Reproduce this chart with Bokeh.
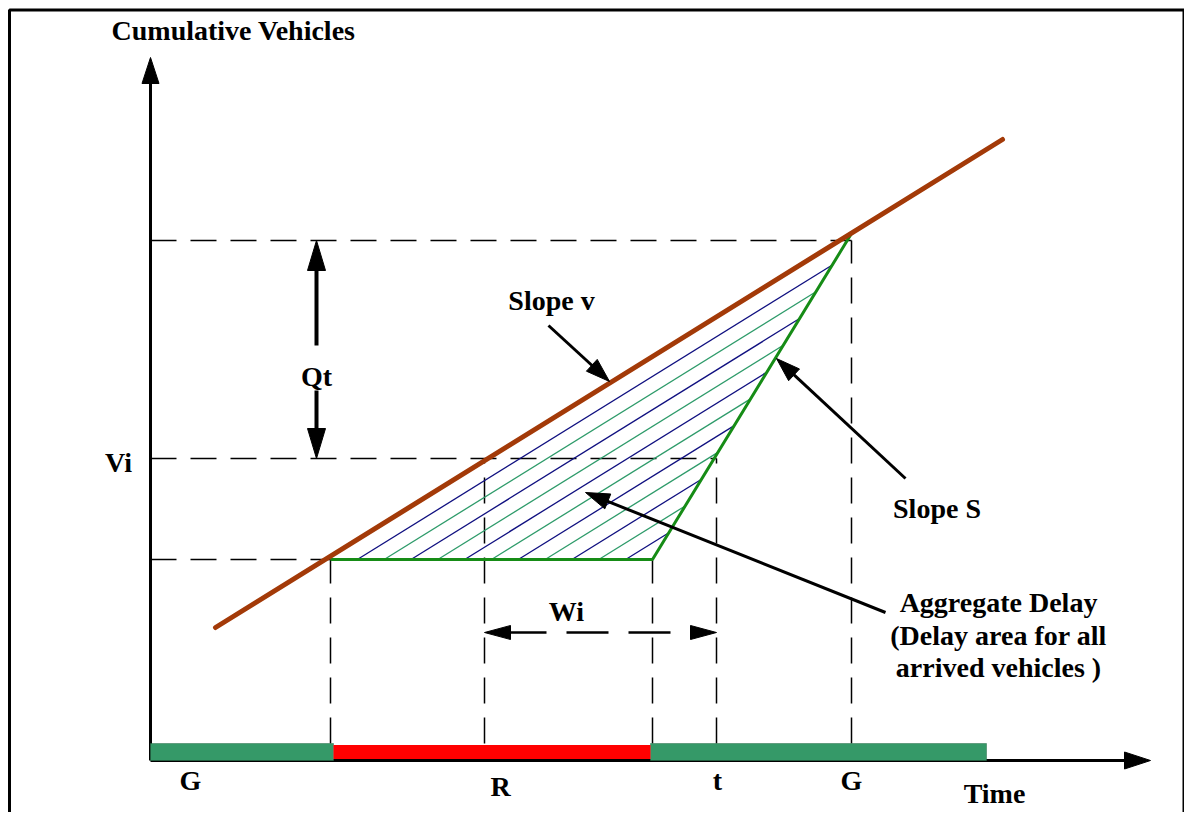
from bokeh.plotting import figure
from bokeh.models import Range1d
from bokeh.core.properties import value
from bokeh.embed import file_html
from bokeh.resources import INLINE
import math

# ---------------- data (diagram units: time, cumulative vehicles) ----------------
arrival_t = [65, 852]          # arrival curve (slope v)
arrival_n = [133, 621]
queue_t = [180, 502]           # queue held during red
queue_n = [201, 201]
departure_t = [502, 701]       # departure curve (slope S)
departure_n = [201, 527]
vi_level = 302                 # Vi
vi_arrive_t = 334
vi_depart_t = 566
qt_top = 520                   # top of Qt
signal_start = [0, 183, 500]
signal_end = [183, 500, 836]
signal_colors = ["#359968", "#FF0000", "#359968"]
tick_labels = ["G", "R", "t", "G"]
tick_label_t = [40, 350, 567, 701]
tick_label_n = [-20, -26, -20, -20]
axis_t_end = 1000
axis_n_end = 703
n_hatch = 11

FONT = value("Liberation Serif")
FS = "28px"

p = figure(width=1184, height=812, output_backend="svg", toolbar_location=None,
           x_range=Range1d(-150, 1034), y_range=Range1d(-52, 760),
           min_border=0, background_fill_color="white", border_fill_color="white")
p.axis.visible = False
p.grid.visible = False
p.outline_line_color = None


def head(tip_t, tip_n, dt, dn, length, width):
    L = math.hypot(dt, dn)
    ux, uy = dt / L, dn / L
    bx, by = tip_t - ux * length, tip_n - uy * length
    px, py = -uy * width / 2, ux * width / 2
    return [tip_t, bx + px, bx - px], [tip_n, by + py, by - py]


def arrow(t0, n0, t1, n1, lw=3, length=26, width=16, dash="solid"):
    L = math.hypot(t1 - t0, n1 - n0)
    ux, uy = (t1 - t0) / L, (n1 - n0) / L
    p.line([t0, t1 - ux * length * 0.8], [n0, n1 - uy * length * 0.8],
           line_color="black", line_width=lw, line_dash=dash)
    xs, ys = head(t1, n1, t1 - t0, n1 - n0, length, width)
    p.patch(xs, ys, fill_color="black", line_color="black", line_width=1)


# frame (three visible sides)
p.line([-141, -141, 1033.5, 1033.5], [-60, 750.5, 750.5, -60],
       line_color="black", line_width=3)

# dashed guide lines
DASH = "26 14"
dl = dict(line_color="black", line_width=1.5, line_dash=DASH)
p.line([0, queue_t[0]], [queue_n[0], queue_n[0]], **dl)
p.line([0, vi_depart_t], [vi_level, vi_level], **dl)
p.line([0, departure_t[1]], [qt_top, qt_top], **dl)
for tt, nn in [(queue_t[0], queue_n[0]), (vi_arrive_t, vi_level), (departure_t[0], departure_n[0]),
               (vi_depart_t, vi_level), (departure_t[1], qt_top)]:
    p.line([tt, tt], [17, nn], **dl)

# hatch lines (parallel to arrival curve, clipped by departure curve)
v = (arrival_n[1] - arrival_n[0]) / (arrival_t[1] - arrival_t[0])
s = (departure_n[1] - departure_n[0]) / (departure_t[1] - departure_t[0])
base = queue_n[0]
hx, hy, hc = [], [], []
for k in range(1, n_hatch + 1):
    t0 = queue_t[0] + k * (queue_t[1] - queue_t[0]) / (n_hatch + 1)
    te = (s * departure_t[0] - v * t0) / (s - v)
    ne = base + v * (te - t0)
    hx.append([t0, te])
    hy.append([base, ne])
    hc.append("#101080" if k % 2 == 1 else "#2E9B6A")
p.multi_line(xs=hx, ys=hy, line_color=hc, line_width=1.3)

# queue & departure (green)
p.line(queue_t + departure_t[1:], queue_n + departure_n[1:], line_color="#168C16", line_width=3)

# arrival (brown)
p.line(arrival_t, arrival_n, line_color="#A33A08", line_width=5, line_cap="round")

# axes
p.line([0, 0], [0, axis_n_end - 20], line_color="black", line_width=3)
xs, ys = head(0, axis_n_end, 0, 1, 26, 17)
p.patch(xs, ys, fill_color="black", line_color="black")
p.line([0, axis_t_end - 20], [0, 0], line_color="black", line_width=3)
xs, ys = head(axis_t_end, 0, 1, 0, 26, 17)
p.patch(xs, ys, fill_color="black", line_color="black")

# signal bar
p.quad(left=signal_start[0:1] + signal_start[2:], right=signal_end[0:1] + signal_end[2:],
       bottom=0, top=17, fill_color=signal_colors[0], line_color="#2a6e4a", line_width=0.5)
p.quad(left=signal_start[1:2], right=signal_end[1:2], bottom=1.5, top=15.5,
       fill_color=signal_colors[1], line_color=None)

# Qt arrows
arrow(166, 415, 166, qt_top, lw=4, length=30, width=18)
arrow(166, 370, 166, vi_level, lw=4, length=30, width=18)

# Wi arrow (dashed, both ends)
wn = 128
p.line([vi_arrive_t + 20, vi_depart_t - 20], [wn, wn], line_color="black", line_width=2.5, line_dash="42 20")
xs, ys = head(vi_arrive_t, wn, -1, 0, 26, 14)
p.patch(xs, ys, fill_color="black", line_color="black")
xs, ys = head(vi_depart_t, wn, 1, 0, 26, 14)
p.patch(xs, ys, fill_color="black", line_color="black")

# pointer arrows
arrow(398, 435, 459, 379, lw=3, length=24, width=16)
arrow(755, 282, 626, 402, lw=3, length=24, width=16)
arrow(735, 148, 435, 268, lw=3, length=24, width=16)

# texts
tx = dict(text_font=FONT, text_font_size=FS, text_font_style="bold", text_color="black",
          text_align="center", text_baseline="middle")
labels = [
    ("Cumulative Vehicles", 83, 730),
    ("Vi", -32, 298),
    ("Qt", 166, 384),
    ("Slope v", 401, 460),
    ("Slope  S", 790, 252),
    ("Aggregate Delay", 848, 158),
    ("(Delay area for all", 848, 125),
    ("arrived vehicles )", 848, 93),
    ("Wi", 416, 149),
    ("Time", 844, -33),
]
for txt, tt, nn in labels:
    p.text(x=[tt], y=[nn], text=[txt], **tx)
p.text(x=tick_label_t, y=tick_label_n, text=tick_labels, **tx)

open("out.html", "w").write(file_html(p, INLINE))
